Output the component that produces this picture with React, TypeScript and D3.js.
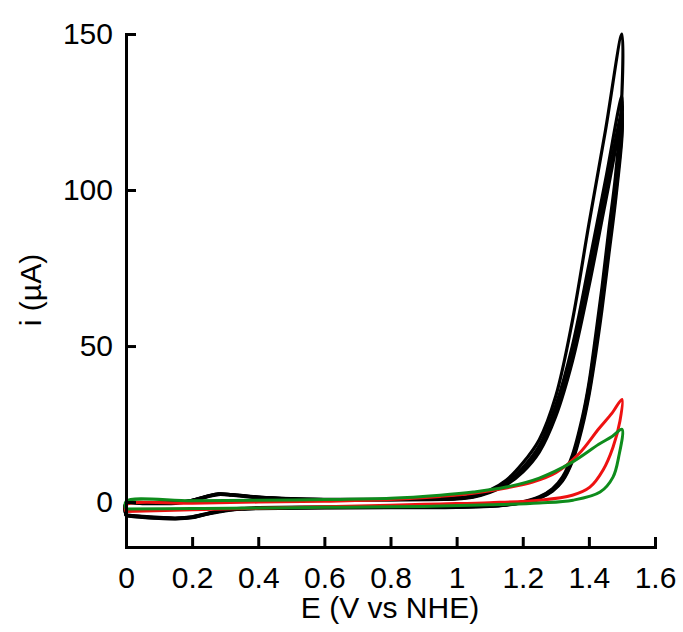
import React, { useEffect, useRef } from "react";
import * as d3 from "d3";

// ---- tick values ----
const xTicks = [0, 0.2, 0.4, 0.6, 0.8, 1, 1.2, 1.4, 1.6];
const yTicks = [0, 50, 100, 150];

// ---- black cycles (potential grids shared, currents per cycle) ----
const blackFwdE = [0, 0, 0.05, 0.1, 0.15, 0.2, 0.25, 0.28, 0.32, 0.4, 0.5, 0.6, 0.8, 1.0, 1.05, 1.1, 1.15, 1.2, 1.25, 1.3, 1.35, 1.4, 1.45, 1.5];
const blackRevE = [1.5, 1.5, 1.48, 1.46, 1.44, 1.42, 1.4, 1.38, 1.35, 1.32, 1.29, 1.25, 1.2, 1.15, 1.1, 1.0, 0.8, 0.6, 0.4, 0.35, 0.3, 0.25, 0.2, 0.15, 0.1, 0.05, 0];

const blackFwdA = [-4.2, -0.4, -0.3, -0.3, -0.2, 0.6, 2.0, 2.6, 2.4, 1.6, 1.1, 0.9, 0.9, 1.4, 2.1, 3.8, 7, 12.5, 20, 34, 58, 89, 119, 150];
const blackRevA = [150, 131, 104, 87, 69, 53, 38, 27, 15, 8, 4.3, 1.7, 0.1, -0.7, -1.1, -1.4, -1.5, -1.6, -1.8, -2.0, -2.5, -3.5, -4.7, -5.1, -4.9, -4.6, -4.2];

const blackFwdB = [-4.2, -0.4, -0.3, -0.3, -0.2, 0.6, 2.0, 2.6, 2.4, 1.6, 1.0, 0.8, 0.8, 1.2, 1.8, 3.5, 6.2, 11, 18, 31, 50, 76, 103, 130];
const blackRevB = [130, 121, 100, 84, 67, 51, 37, 26, 14, 7.5, 4, 1.5, 0, -0.8, -1.2, -1.5, -1.6, -1.7, -1.9, -2.1, -2.6, -3.6, -4.8, -5.2, -5.0, -4.7, -4.2];

const blackFwdC = [-4.3, -0.5, -0.4, -0.4, -0.3, 0.5, 1.9, 2.5, 2.3, 1.5, 1.0, 0.8, 0.8, 1.1, 1.7, 3.3, 5.8, 10.3, 17, 29, 47, 72, 99, 125];
const blackRevC = [125, 119, 98, 81, 64, 49, 35, 25, 13.5, 7, 3.7, 1.3, -0.1, -0.9, -1.3, -1.6, -1.7, -1.8, -2.0, -2.2, -2.7, -3.7, -4.9, -5.3, -5.1, -4.8, -4.3];

const blackFwdD = [-4.4, -0.6, -0.5, -0.5, -0.4, 0.4, 1.8, 2.4, 2.2, 1.4, 0.9, 0.7, 0.7, 1.0, 1.6, 3.1, 5.5, 9.6, 16, 27.5, 45, 69, 96, 122];
const blackRevD = [122, 117, 96, 79, 62, 47, 34, 24, 13, 6.7, 3.5, 1.2, -0.2, -1.0, -1.4, -1.7, -1.8, -1.9, -2.1, -2.3, -2.8, -3.8, -5.0, -5.4, -5.2, -4.9, -4.4];

// ---- red loop ----
const redFwdE = [0, 0, 0.2, 0.4, 0.6, 0.8, 0.95, 1.05, 1.15, 1.23, 1.3, 1.37, 1.43, 1.47, 1.5];
const redFwdI = [-3.0, -0.9, -0.4, 0, 0.3, 0.8, 1.8, 2.8, 4.5, 6.4, 9.4, 15.5, 23.5, 28.5, 32.9];
const redRevE = [1.5, 1.494, 1.473, 1.443, 1.403, 1.35, 1.25, 1.1, 0.95, 0.8, 0.6, 0.4, 0.2, 0];
const redRevI = [32.9, 26, 17.6, 10.3, 4.8, 2.2, 0.6, -0.2, -0.6, -1.0, -1.5, -2.0, -2.5, -3.0];

// ---- green loop ----
const greenFwdE = [0, 0, 0.2, 0.4, 0.6, 0.8, 0.95, 1.05, 1.15, 1.25, 1.35, 1.43, 1.47, 1.5];
const greenFwdI = [-2.2, 0.2, 0.4, 0.6, 0.8, 1.2, 2.2, 3.2, 4.8, 7.7, 12.8, 18.5, 21, 23.3];
const greenRevE = [1.5, 1.49, 1.473, 1.434, 1.352, 1.25, 1.1, 0.95, 0.8, 0.6, 0.4, 0.2, 0];
const greenRevI = [23.3, 14.4, 8, 3.2, 0.6, -0.3, -0.9, -1.3, -1.5, -1.7, -1.9, -2.1, -2.2];

const W = 683;
const H = 632;
const FONT = "'Liberation Sans', Arial, sans-serif";

function loop(fE: number[], fI: number[], rE: number[], rI: number[]): [number, number][] {
  const pts: [number, number][] = fE.map((e, k) => [e, fI[k]] as [number, number]);
  rE.forEach((e, k) => {
    if (k === 0) return;
    pts.push([e, rI[k]]);
  });
  return pts;
}

export default function App() {
  const ref = useRef<SVGSVGElement>(null);

  useEffect(() => {
    const svg = d3.select(ref.current);
    svg.selectAll("*").remove();

    const x = d3.scaleLinear().domain([0, 1.6]).range([126, 655]);
    const y = d3.scaleLinear().domain([-14.4, 150]).range([547, 34]);

    const line = d3
      .line<[number, number]>()
      .x((d) => x(d[0]))
      .y((d) => y(d[1]))
      .curve(d3.curveCatmullRom.alpha(0.5));

    const blacks = [
      [blackFwdA, blackRevA],
      [blackFwdB, blackRevB],
      [blackFwdC, blackRevC],
      [blackFwdD, blackRevD],
    ];
    const g = svg.append("g");
    blacks.forEach(([f, r]) => {
      g.append("path")
        .attr("d", line(loop(blackFwdE, f, blackRevE, r)))
        .attr("fill", "none")
        .attr("stroke", "#000")
        .attr("stroke-width", 3.2)
        .attr("stroke-linejoin", "round");
    });
    g.append("path")
      .attr("d", line(loop(redFwdE, redFwdI, redRevE, redRevI)))
      .attr("fill", "none")
      .attr("stroke", "#ee1111")
      .attr("stroke-width", 3)
      .attr("stroke-linejoin", "round");
    g.append("path")
      .attr("d", line(loop(greenFwdE, greenFwdI, greenRevE, greenRevI)))
      .attr("fill", "none")
      .attr("stroke", "#0e8c1c")
      .attr("stroke-width", 3)
      .attr("stroke-linejoin", "round");

    const xa = svg
      .append("g")
      .attr("transform", `translate(0,547)`)
      .call(
        d3
          .axisBottom(x)
          .tickValues(xTicks)
          .tickSizeInner(-10)
          .tickSizeOuter(0)
          .tickPadding(20)
          .tickFormat((d) => d3.format("~g")(d as number))
      );
    const ya = svg
      .append("g")
      .attr("transform", `translate(126,0)`)
      .call(
        d3
          .axisLeft(y)
          .tickValues(yTicks)
          .tickSizeInner(-10)
          .tickSizeOuter(0)
          .tickPadding(13)
      );
    [xa, ya].forEach((a) => {
      a.select(".domain").attr("stroke", "#000").attr("stroke-width", 3).attr("stroke-linecap", "square");
      a.selectAll(".tick line").attr("stroke", "#000").attr("stroke-width", 3);
      a.selectAll(".tick text").attr("fill", "#000").style("font-size", "30px").style("font-family", FONT);
    });

    svg
      .append("text")
      .attr("x", 390)
      .attr("y", 618)
      .attr("text-anchor", "middle")
      .style("font-size", "30px")
      .style("font-family", FONT)
      .text("E (V vs NHE)");
    svg
      .append("text")
      .attr("transform", `translate(41,290) rotate(-90)`)
      .attr("text-anchor", "middle")
      .style("font-size", "30px")
      .style("font-family", FONT)
      .text("i (µA)");
  }, []);

  return (
    <svg
      ref={ref}
      width={W}
      height={H}
      style={{ position: "absolute", left: 0, top: 0, background: "#fff" }}
    />
  );
}
